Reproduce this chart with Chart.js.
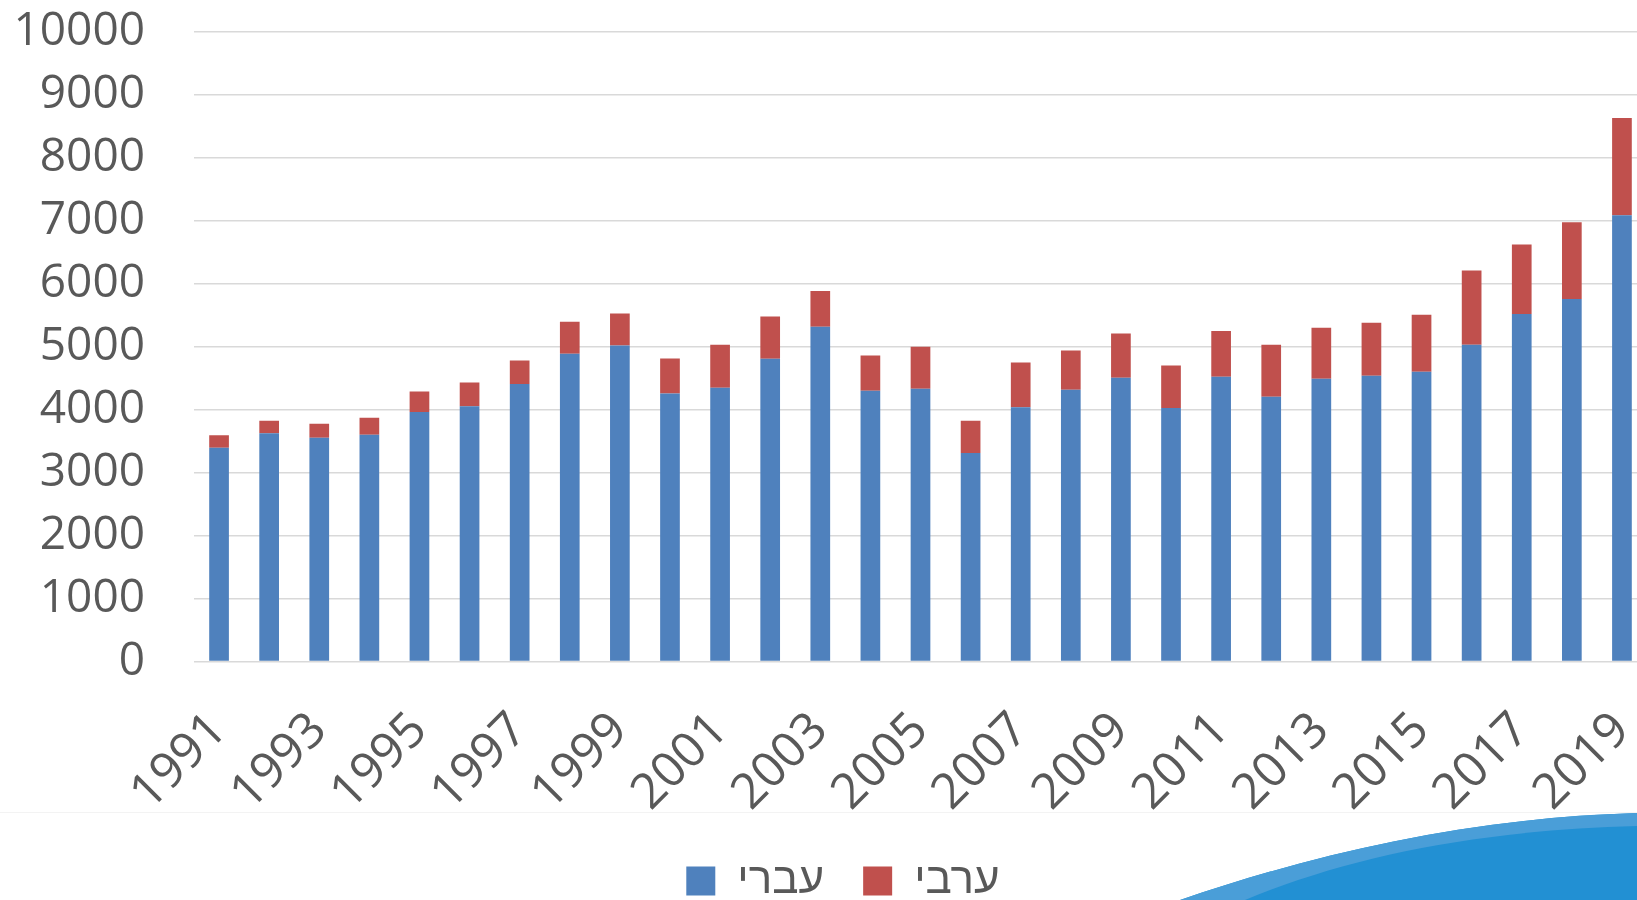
<!DOCTYPE html>
<html>
<head>
<meta charset="utf-8">
<script src="https://cdn.jsdelivr.net/npm/chart.js@4.4.1/dist/chart.umd.min.js"></script>
<style>
  html, body { margin: 0; padding: 0; background: #fff; overflow: hidden; width: 1637px; height: 900px; }
  #wrap { position: relative; width: 1637px; height: 900px; overflow: hidden; }
  #chart { position: absolute; left: 0; top: 0; }
  #deco { position: absolute; left: 0; top: 0; pointer-events: none; }
</style>
</head>
<body>
<div id="wrap">
  <svg id="deco" width="1637" height="900">
    <line x1="0" y1="812.5" x2="1637" y2="812.5" stroke="#f3f3f3" stroke-width="1"/>
    <path d="M1180 900 C1320 852 1470 818 1637 813 L1637 900 Z" fill="#2290d3"/>
    <path d="M1180 900 C1320 852 1470 818 1637 813 L1637 826 C1480 830 1350 856 1245 900 Z" fill="#4a9ed8"/>
  </svg>
  <canvas id="chart" width="1700" height="913"></canvas>
</div>
<script>
// years on the x axis
const years = ['1991', '1992', '1993', '1994', '1995', '1996', '1997', '1998', '1999', '2000',
               '2001', '2002', '2003', '2004', '2005', '2006', '2007', '2008', '2009', '2010',
               '2011', '2012', '2013', '2014', '2015', '2016', '2017', '2018', '2019'];

// עברי (blue, bottom part)
const hebrew = [3397, 3624, 3556, 3603, 3963, 4053, 4407, 4889, 5021, 4259,
                4349, 4810, 5317, 4302, 4333, 3312, 4037, 4317, 4508, 4026,
                4524, 4206, 4492, 4540, 4603, 5032, 5519, 5757, 7090];

// ערבי (red, stacked on top)
const arab = [196, 201, 222, 270, 328, 381, 376, 508, 508, 556,
              683, 671, 567, 560, 667, 513, 714, 625, 704, 678,
              728, 826, 810, 841, 905, 1180, 1105, 1222, 1545];

const yTicks = [0, 1000, 2000, 3000, 4000, 5000, 6000, 7000, 8000, 9000, 10000];

const textColor = '#595959';
const font = "'Open Sans', 'Liberation Sans', sans-serif";

// legend sits a little right of the plot centre in the original
const legendShift = {
  id: 'legendShift',
  afterLayout(chart) {
    chart.legend.left += 19.5;
    chart.legend.right += 19.5;
  }
};

const ctx = document.getElementById('chart').getContext('2d');
new Chart(ctx, {
  type: 'bar',
  data: {
    labels: years,
    datasets: [
      {
        label: 'עברי',
        data: hebrew,
        backgroundColor: '#4f81bd',
        barPercentage: 0.393,
        categoryPercentage: 1
      },
      {
        label: 'ערבי',
        data: arab,
        backgroundColor: '#c0504d',
        barPercentage: 0.393,
        categoryPercentage: 1
      }
    ]
  },
  plugins: [legendShift],
  options: {
    responsive: false,
    animation: false,
    layout: { padding: { left: 0, right: 53, top: 32, bottom: 0 } },
    plugins: {
      tooltip: { enabled: false },
      legend: {
        position: 'bottom',
        labels: {
          color: textColor,
          font: { family: "'Liberation Sans', Arial, sans-serif", size: 44 },
          boxWidth: 29,
          boxHeight: 29,
          padding: 39
        }
      }
    },
    scales: {
      x: {
        stacked: true,
        grid: { display: false },
        border: { display: false },
        ticks: {
          color: textColor,
          font: { family: font, size: 49 },
          autoSkip: false,
          minRotation: 45,
          maxRotation: 45,
          padding: 32,
          callback: (v, i) => (i % 2 === 0 ? years[i] : '')
        },
        afterFit: (scale) => { scale.height = 158.5; }
      },
      y: {
        stacked: true,
        min: 0,
        max: 10000,
        afterBuildTicks: (scale) => { scale.ticks = yTicks.map(v => ({ value: v })); },
        grid: { color: '#d9d9d9', lineWidth: 1.5, drawTicks: true, tickLength: 49, tickColor: 'rgba(0,0,0,0)' },
        border: { display: false },
        ticks: {
          color: textColor,
          font: { family: font, size: 46 },
          padding: 0,
          callback: (v) => String(v)
        },
        afterFit: (scale) => { scale.width = 194; }
      }
    }
  }
});
</script>
</body>
</html>
